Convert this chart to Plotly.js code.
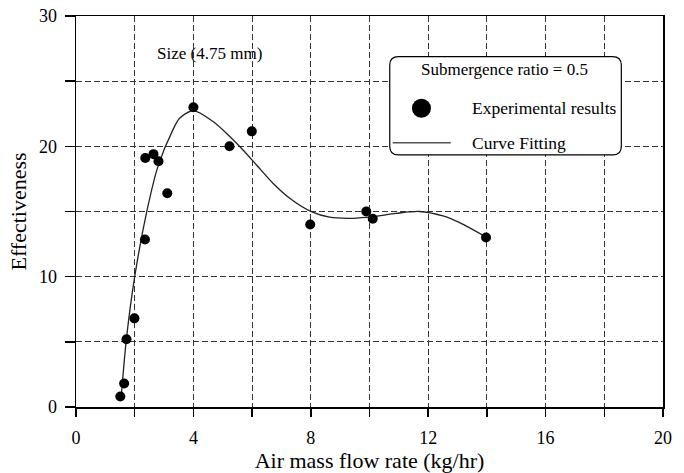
<!DOCTYPE html>
<html>
<head>
<meta charset="utf-8">
<script src="https://cdn.plot.ly/plotly-3.0.1.min.js"></script>
<style>html,body{margin:0;padding:0;background:#fff;}#chart{width:684px;height:473px;}</style>
</head>
<body>
<div id="chart"></div>
<script>
// Experimental results
const expX = [1.51, 1.64, 1.72, 1.99, 2.35, 2.36, 2.64, 2.81, 3.11, 4.0, 5.23, 5.99, 7.98, 9.89, 10.11, 13.97];
const expY = [0.8, 1.8, 5.2, 6.8, 12.85, 19.1, 19.4, 18.85, 16.4, 23.0, 20.0, 21.15, 14.0, 15.0, 14.45, 13.0];
// Curve fitting
const fitX = [1.55, 1.72, 2.0, 2.4, 2.79, 3.3, 3.53, 4.0, 4.67, 5.24, 5.69, 6.15, 6.71, 7.28, 8.02, 8.64, 9.44, 10.12, 10.9, 11.7, 12.5, 13.07, 14.0];
const fitY = [1.05, 5.27, 10.0, 14.87, 18.44, 21.26, 22.16, 22.74, 21.9, 20.75, 19.72, 18.57, 17.17, 16.02, 14.99, 14.56, 14.48, 14.6, 14.85, 15.0, 14.66, 14.14, 13.0];
// Ticks
const xTickVals = [0, 2, 4, 6, 8, 10, 12, 14, 16, 18, 20];
const xTickText = ['0', '', '4', '', '8', '', '12', '', '16', '', '20'];
const yTickVals = [0, 5, 10, 15, 20, 25, 30];
const yTickText = ['0', '', '10', '', '20', '', '30'];

const font = 'Liberation Serif, Times New Roman, serif';

const traces = [
  {x: fitX, y: fitY, mode: 'lines', type: 'scatter', name: 'Curve Fitting',
   line: {color: '#222', width: 1.3, shape: 'spline', smoothing: 0.8}, hoverinfo: 'skip'},
  {x: expX, y: expY, mode: 'markers', type: 'scatter', name: 'Experimental results',
   marker: {color: '#000', size: 10, symbol: 'circle'}}
];

// legend box geometry (data coords)
const L = 10.69, R = 18.58, T = 26.88, B = 19.34, rx = 0.3, ry = 0.65;
const boxPath = `M ${L+rx},${T} L ${R-rx},${T} Q ${R},${T} ${R},${T-ry} L ${R},${B+ry} Q ${R},${B} ${R-rx},${B} L ${L+rx},${B} Q ${L},${B} ${L},${B+ry} L ${L},${T-ry} Q ${L},${T} ${L+rx},${T} Z`;

const axisCommon = {
  showline: true, linecolor: '#000', linewidth: 1.5, mirror: true,
  ticks: 'outside', tickcolor: '#000', tickwidth: 1.5,
  showgrid: true, gridcolor: '#333', gridwidth: 1, griddash: '6px,3px',
  zeroline: false, tickfont: {family: font, size: 18, color: '#000'}
};

const layout = {
  width: 684, height: 473,
  margin: {l: 76, r: 21, t: 16, b: 66},
  paper_bgcolor: '#fff', plot_bgcolor: '#fff',
  showlegend: false,
  font: {family: font, color: '#000'},
  xaxis: Object.assign({}, axisCommon, {
    range: [0, 20], tickmode: 'array', tickvals: xTickVals, ticktext: xTickText,
    ticklen: 8, ticklabelstandoff: 6,
    title: {text: 'Air mass flow rate (kg/hr)', font: {family: font, size: 22, color: '#000'}, standoff: 6}
  }),
  yaxis: Object.assign({}, axisCommon, {
    range: [0, 30], tickmode: 'array', tickvals: yTickVals, ticktext: yTickText,
    ticklen: 10, ticklabelstandoff: 4,
    title: {text: 'Effectiveness', font: {family: font, size: 22, color: '#000'}, standoff: 6}
  }),
  shapes: [
    {type: 'path', xref: 'x', yref: 'y', path: boxPath, fillcolor: '#fff', line: {color: '#000', width: 1.2}, layer: 'above'},
    {type: 'circle', xref: 'x', yref: 'y', xsizemode: 'pixel', ysizemode: 'pixel', xanchor: 11.77, yanchor: 22.92,
     x0: -9.5, x1: 9.5, y0: -9.5, y1: 9.5, fillcolor: '#000', line: {color: '#000', width: 0}},
    {type: 'line', xref: 'x', yref: 'y', x0: 10.79, x1: 12.77, y0: 20.28, y1: 20.28, line: {color: '#555', width: 1.5}}
  ],
  annotations: [
    {text: 'Size (4.75 mm)', x: 4.55, y: 27.1, xref: 'x', yref: 'y', showarrow: false, font: {family: font, size: 17, color: '#000'}},
    {text: 'Submergence ratio = 0.5', x: 14.61, y: 25.86, xref: 'x', yref: 'y', showarrow: false, font: {family: font, size: 17, color: '#000'}},
    {text: 'Experimental results', x: 13.44, y: 22.92, xref: 'x', yref: 'y', xanchor: 'left', showarrow: false, font: {family: font, size: 17.5, color: '#000'}},
    {text: 'Curve Fitting', x: 13.44, y: 20.28, xref: 'x', yref: 'y', xanchor: 'left', showarrow: false, font: {family: font, size: 17.5, color: '#000'}}
  ]
};

Plotly.newPlot('chart', traces, layout, {staticPlot: true, displayModeBar: false});
</script>
</body>
</html>
